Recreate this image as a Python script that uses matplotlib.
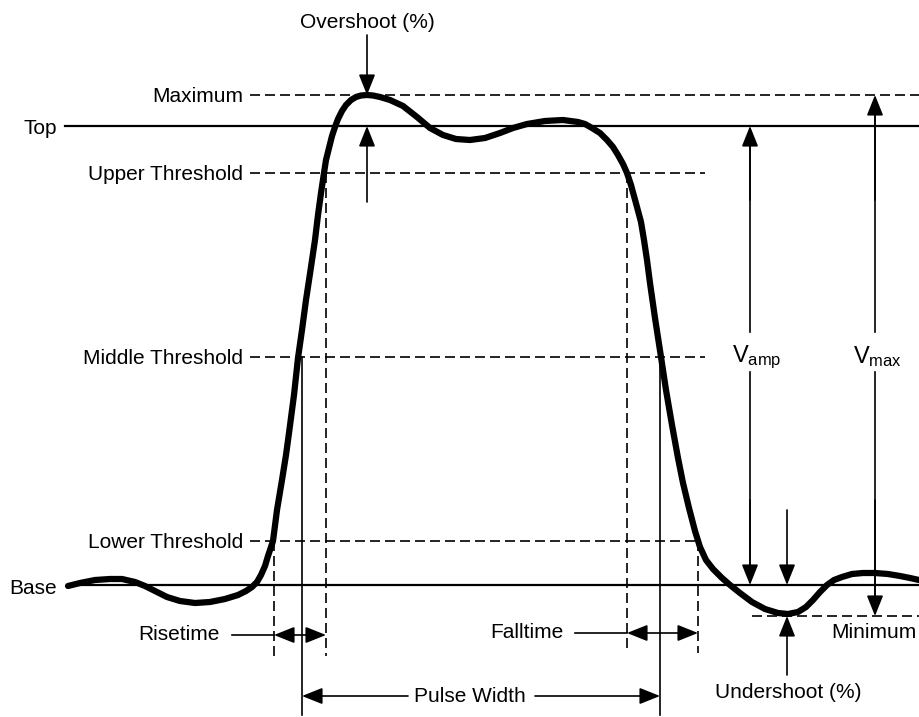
import matplotlib
matplotlib.use("Agg")
import matplotlib.pyplot as plt

plt.rcParams['font.family'] = ['Liberation Sans', 'DejaVu Sans']
plt.rcParams['mathtext.fontset'] = 'custom'
plt.rcParams['mathtext.rm'] = 'Liberation Sans'
plt.rcParams['mathtext.it'] = 'Liberation Sans'

# Pulse waveform (pixel coordinates, y downwards)
curve_x = [68, 80, 95, 110, 122, 135, 145, 155, 167, 180, 195, 210, 225, 238,
           246, 252, 257, 261, 265, 268, 271, 273, 277, 282, 286, 289, 294,
           298, 302, 306, 311, 315, 318, 321, 324, 326, 329, 332, 335, 338,
           342, 346, 351, 356, 361, 367, 373, 380, 390, 403, 417, 430, 443,
           456, 470, 485, 500, 513, 527, 545, 563, 578, 585, 592, 600, 607,
           613, 618, 623, 627, 631, 634, 637, 641, 644, 647, 650, 655, 661,
           666, 672, 678, 683, 689, 695, 700, 706, 713, 722, 730, 740, 752,
           765, 778, 788, 798, 806, 813, 820, 827, 834, 842, 852, 863, 875,
           888, 900, 910, 919]
curve_y = [586, 583, 580, 579, 579, 582, 586, 591, 597, 601, 603, 602, 599, 595,
           591, 587, 582, 575, 566, 556, 547, 541, 510, 480, 455, 433, 395,
           358, 330, 300, 267, 240, 215, 193, 173, 160, 148, 136, 127, 119,
           111, 105, 100, 97, 95.5, 95, 95.5, 97, 100, 106, 117, 128, 135,
           139, 140, 138, 133, 128, 124, 121, 120, 122, 124, 128, 133, 140,
           147, 155, 164, 173, 185, 196, 207, 222, 240, 260, 283, 318, 357,
           390, 425, 458, 483, 508, 531, 547, 560, 569, 578, 585, 593, 602,
           609, 613, 614, 612, 607, 600, 592, 585, 580, 577, 574, 573, 573,
           574, 576, 578, 580]

# reference levels
y_max = 95
y_top = 126
y_upper = 173
y_middle = 357
y_lower = 541
y_base = 585
y_min = 616

# time marks
x_rise_lo, x_rise_mid, x_rise_hi = 274, 302, 326
x_fall_hi, x_fall_mid, x_fall_lo = 627, 660, 698

left_labels = ['Maximum', 'Upper Threshold', 'Middle Threshold', 'Lower Threshold']
left_levels = [y_max, y_upper, y_middle, y_lower]
dash_ends = [919, 705, 705, 698]

fig = plt.figure(figsize=(9.19, 7.17), dpi=100)
ax = fig.add_axes([0, 0, 1, 1])
ax.set_xlim(0, 919)
ax.set_ylim(717, 0)
ax.axis('off')

FS = 15
dash = dict(color='k', lw=1.2, dashes=(6, 3))
thin = dict(color='k', lw=1.2)


def arrow(x0, y0, x1, y1, style='-|>'):
    ax.annotate('', xy=(x1, y1), xytext=(x0, y0),
                arrowprops=dict(arrowstyle=style + ',head_length=0.7,head_width=0.28',
                                color='k', lw=1.2, shrinkA=0, shrinkB=0,
                                mutation_scale=18))


# solid Top / Base lines
ax.plot([65, 919], [y_top, y_top], color='k', lw=1.6)
ax.plot([68, 919], [y_base, y_base], color='k', lw=1.6)
ax.text(57, y_top + 2, 'Top', ha='right', va='center', fontsize=FS)
ax.text(57, y_base + 3, 'Base', ha='right', va='center', fontsize=FS)

# dashed thresholds with their labels
for lab, yy, xe in zip(left_labels, left_levels, dash_ends):
    ax.plot([250, xe], [yy, yy], **dash)
    ax.text(243, yy + 1, lab, ha='right', va='center', fontsize=FS)
ax.plot([752, 919], [y_min, y_min], **dash)
ax.text(874, 633, 'Minimum', ha='center', va='center', fontsize=FS)

# vertical marks
ax.plot([x_rise_lo, x_rise_lo], [y_lower, 656], **dash)
ax.plot([x_rise_hi, x_rise_hi], [y_upper, 656], **dash)
ax.plot([x_fall_hi, x_fall_hi], [y_upper, 653], **dash)
ax.plot([x_fall_lo, x_fall_lo], [y_lower, 653], **dash)
ax.plot([x_rise_mid, x_rise_mid], [y_middle, 715], **thin)
ax.plot([x_fall_mid, x_fall_mid], [y_middle, 715], **thin)

# waveform
ax.plot(curve_x, curve_y, color='k', lw=4.5, solid_capstyle='round',
        solid_joinstyle='round')

# risetime / falltime
ax.text(220, 635, 'Risetime', ha='right', va='center', fontsize=FS)
ax.plot([232, x_rise_lo], [635, 635], **thin)
arrow(x_rise_lo, 635, x_rise_hi, 635, '<|-|>')
ax.text(564, 633, 'Falltime', ha='right', va='center', fontsize=FS)
ax.plot([575, x_fall_hi], [633, 633], **thin)
arrow(x_fall_hi, 633, x_fall_lo, 633, '<|-|>')

# pulse width
ax.text(470, 697, 'Pulse Width', ha='center', va='center', fontsize=FS)
arrow(408, 696, x_rise_mid, 696)
arrow(535, 696, x_fall_mid, 696)

# overshoot
ax.text(367, 22, 'Overshoot (%)', ha='center', va='center', fontsize=FS)
arrow(367, 35, 367, y_max)
arrow(367, 202, 367, y_top)

# undershoot
ax.text(788, 693, 'Undershoot (%)', ha='center', va='center', fontsize=FS)
arrow(787, 510, 787, y_base)
arrow(787, 675, 787, y_min)

# V_amp and V_max
ax.plot([750, 750], [y_top + 10, 332], **thin)
ax.plot([750, 750], [372, y_base - 10], **thin)
arrow(750, 200, 750, y_top)
arrow(750, 500, 750, y_base)
ax.text(757, 357, r'V$_{\mathrm{amp}}$', ha='center', va='center', fontsize=17)
ax.plot([875, 875], [y_max + 10, 332], **thin)
ax.plot([875, 875], [372, y_min - 10], **thin)
arrow(875, 200, 875, y_max)
arrow(875, 500, 875, y_min)
ax.text(878, 357, r'V$_{\mathrm{max}}$', ha='center', va='center', fontsize=17)

fig.savefig('out.png', dpi=100)
